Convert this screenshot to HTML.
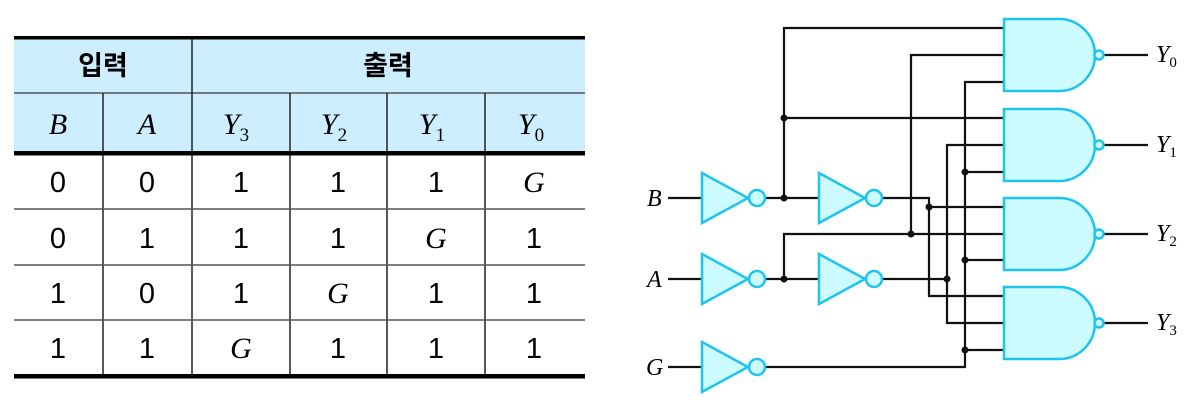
<!DOCTYPE html>
<html><head><meta charset="utf-8"><style>
html,body{margin:0;padding:0;background:#fff;}
svg{display:block;}
.n{font-family:"Liberation Sans",sans-serif;font-size:29px;}
.i{font-family:"Liberation Serif",serif;font-style:italic;font-size:30px;}
.k{font-family:"Liberation Sans","Noto Sans CJK KR",sans-serif;font-size:27px;font-weight:bold;}
.s{font-family:"Liberation Serif",serif;font-size:19px;}
</style></head><body>
<svg width="1199" height="403" viewBox="0 0 1199 403" xmlns="http://www.w3.org/2000/svg">
<rect x="14" y="38" width="571" height="115" fill="#cdeefe"/>
<g stroke="#222" stroke-width="1.5">
<line x1="14" y1="93" x2="585" y2="93" stroke="#555"/>
<line x1="192" y1="38" x2="192" y2="378"/>
<line x1="103" y1="93" x2="103" y2="378"/>
<line x1="290" y1="93" x2="290" y2="378"/>
<line x1="387" y1="93" x2="387" y2="378"/>
<line x1="485" y1="93" x2="485" y2="378"/>
<line x1="14" y1="209" x2="585" y2="209" stroke="#555"/>
<line x1="14" y1="265" x2="585" y2="265" stroke="#555"/>
<line x1="14" y1="320" x2="585" y2="320" stroke="#555"/>
</g>
<rect x="14" y="36" width="571" height="3.5" fill="#000"/>
<rect x="14" y="151" width="571" height="4.5" fill="#000"/>
<rect x="14" y="374" width="571" height="4.5" fill="#000"/>
<g text-anchor="middle">
<text class="k" x="103" y="75">입력</text>
<text class="k" x="388" y="75">출력</text>
<text class="i" x="58" y="134">B</text>
<text class="i" x="147" y="134">A</text>
<text class="i" x="236" y="134">Y<tspan class="s" font-style="normal" dy="7">3</tspan></text>
<text class="i" x="334" y="134">Y<tspan class="s" font-style="normal" dy="7">2</tspan></text>
<text class="i" x="432" y="134">Y<tspan class="s" font-style="normal" dy="7">1</tspan></text>
<text class="i" x="531" y="134">Y<tspan class="s" font-style="normal" dy="7">0</tspan></text>
<text class="n" x="58" y="192">0</text><text class="n" x="147" y="192">0</text><text class="n" x="241" y="192">1</text><text class="n" x="338" y="192">1</text><text class="n" x="436" y="192">1</text><text class="i" x="534" y="192">G</text>
<text class="n" x="58" y="248">0</text><text class="n" x="147" y="248">1</text><text class="n" x="241" y="248">1</text><text class="n" x="338" y="248">1</text><text class="i" x="436" y="248">G</text><text class="n" x="534" y="248">1</text>
<text class="n" x="58" y="303">1</text><text class="n" x="147" y="303">0</text><text class="n" x="241" y="303">1</text><text class="i" x="338" y="303">G</text><text class="n" x="436" y="303">1</text><text class="n" x="534" y="303">1</text>
<text class="n" x="58" y="358">1</text><text class="n" x="147" y="358">1</text><text class="i" x="241" y="358">G</text><text class="n" x="338" y="358">1</text><text class="n" x="436" y="358">1</text><text class="n" x="534" y="358">1</text>
</g>
<g stroke="#111" stroke-width="2.2" fill="none">
<line x1="668" y1="198" x2="702" y2="198"/>
<line x1="668" y1="279" x2="702" y2="279"/>
<line x1="668" y1="367" x2="702" y2="367"/>
<polyline points="765,198 819,198"/>
<polyline points="784,198 784,28 1004,28"/>
<line x1="784" y1="118" x2="1004" y2="118"/>
<polyline points="882,198 929,198 929,296 1004,296"/>
<line x1="929" y1="207" x2="1004" y2="207"/>
<polyline points="765,279 819,279"/>
<polyline points="784,279 784,234 1004,234"/>
<polyline points="911,234 911,55 1004,55"/>
<polyline points="882,279 947,279"/>
<polyline points="1004,145 947,145 947,323 1004,323"/>
<polyline points="765,367 965,367 965,82 1004,82"/>
<line x1="965" y1="172" x2="1004" y2="172"/>
<line x1="965" y1="260" x2="1004" y2="260"/>
<line x1="965" y1="350" x2="1004" y2="350"/>
<line x1="1103" y1="55" x2="1148" y2="55"/>
<line x1="1103" y1="145" x2="1148" y2="145"/>
<line x1="1103" y1="234" x2="1148" y2="234"/>
<line x1="1103" y1="323" x2="1148" y2="323"/>
</g>
<g fill="#111">
<circle cx="784" cy="198" r="3.5"/><circle cx="784" cy="118" r="3.5"/>
<circle cx="784" cy="279" r="3.5"/><circle cx="911" cy="234" r="3.5"/>
<circle cx="929" cy="207" r="3.5"/><circle cx="947" cy="279" r="3.5"/>
<circle cx="965" cy="172" r="3.5"/><circle cx="965" cy="260" r="3.5"/><circle cx="965" cy="350" r="3.5"/>
</g>
<g fill="#ccfcff" stroke="#1ec4ee" stroke-width="2.5">
<polygon points="702,173 748,198 702,223"/><circle cx="757" cy="198" r="8"/>
<polygon points="819,173 865,198 819,223"/><circle cx="874" cy="198" r="8"/>
<polygon points="702,254 748,279 702,304"/><circle cx="757" cy="279" r="8"/>
<polygon points="819,254 865,279 819,304"/><circle cx="874" cy="279" r="8"/>
<polygon points="702,342 748,367 702,392"/><circle cx="757" cy="367" r="8"/>
<path d="M1004,19 H1059 A36,36 0 0 1 1059,91 H1004 Z"/><circle cx="1099" cy="55" r="4.5"/>
<path d="M1004,109 H1059 A36,36 0 0 1 1059,181 H1004 Z"/><circle cx="1099" cy="145" r="4.5"/>
<path d="M1004,198 H1059 A36,36 0 0 1 1059,270 H1004 Z"/><circle cx="1099" cy="234" r="4.5"/>
<path d="M1004,287 H1059 A36,36 0 0 1 1059,359 H1004 Z"/><circle cx="1099" cy="323" r="4.5"/>
</g>
<g class="i" style="font-size:24px">
<text x="647" y="206">B</text>
<text x="647" y="287">A</text>
<text x="646" y="375">G</text>
<text x="1156" y="62">Y<tspan style="font-size:15px;font-style:normal" dy="5">0</tspan></text>
<text x="1156" y="152">Y<tspan style="font-size:15px;font-style:normal" dy="5">1</tspan></text>
<text x="1156" y="241">Y<tspan style="font-size:15px;font-style:normal" dy="5">2</tspan></text>
<text x="1156" y="330">Y<tspan style="font-size:15px;font-style:normal" dy="5">3</tspan></text>
</g>
</svg>
</body></html>
